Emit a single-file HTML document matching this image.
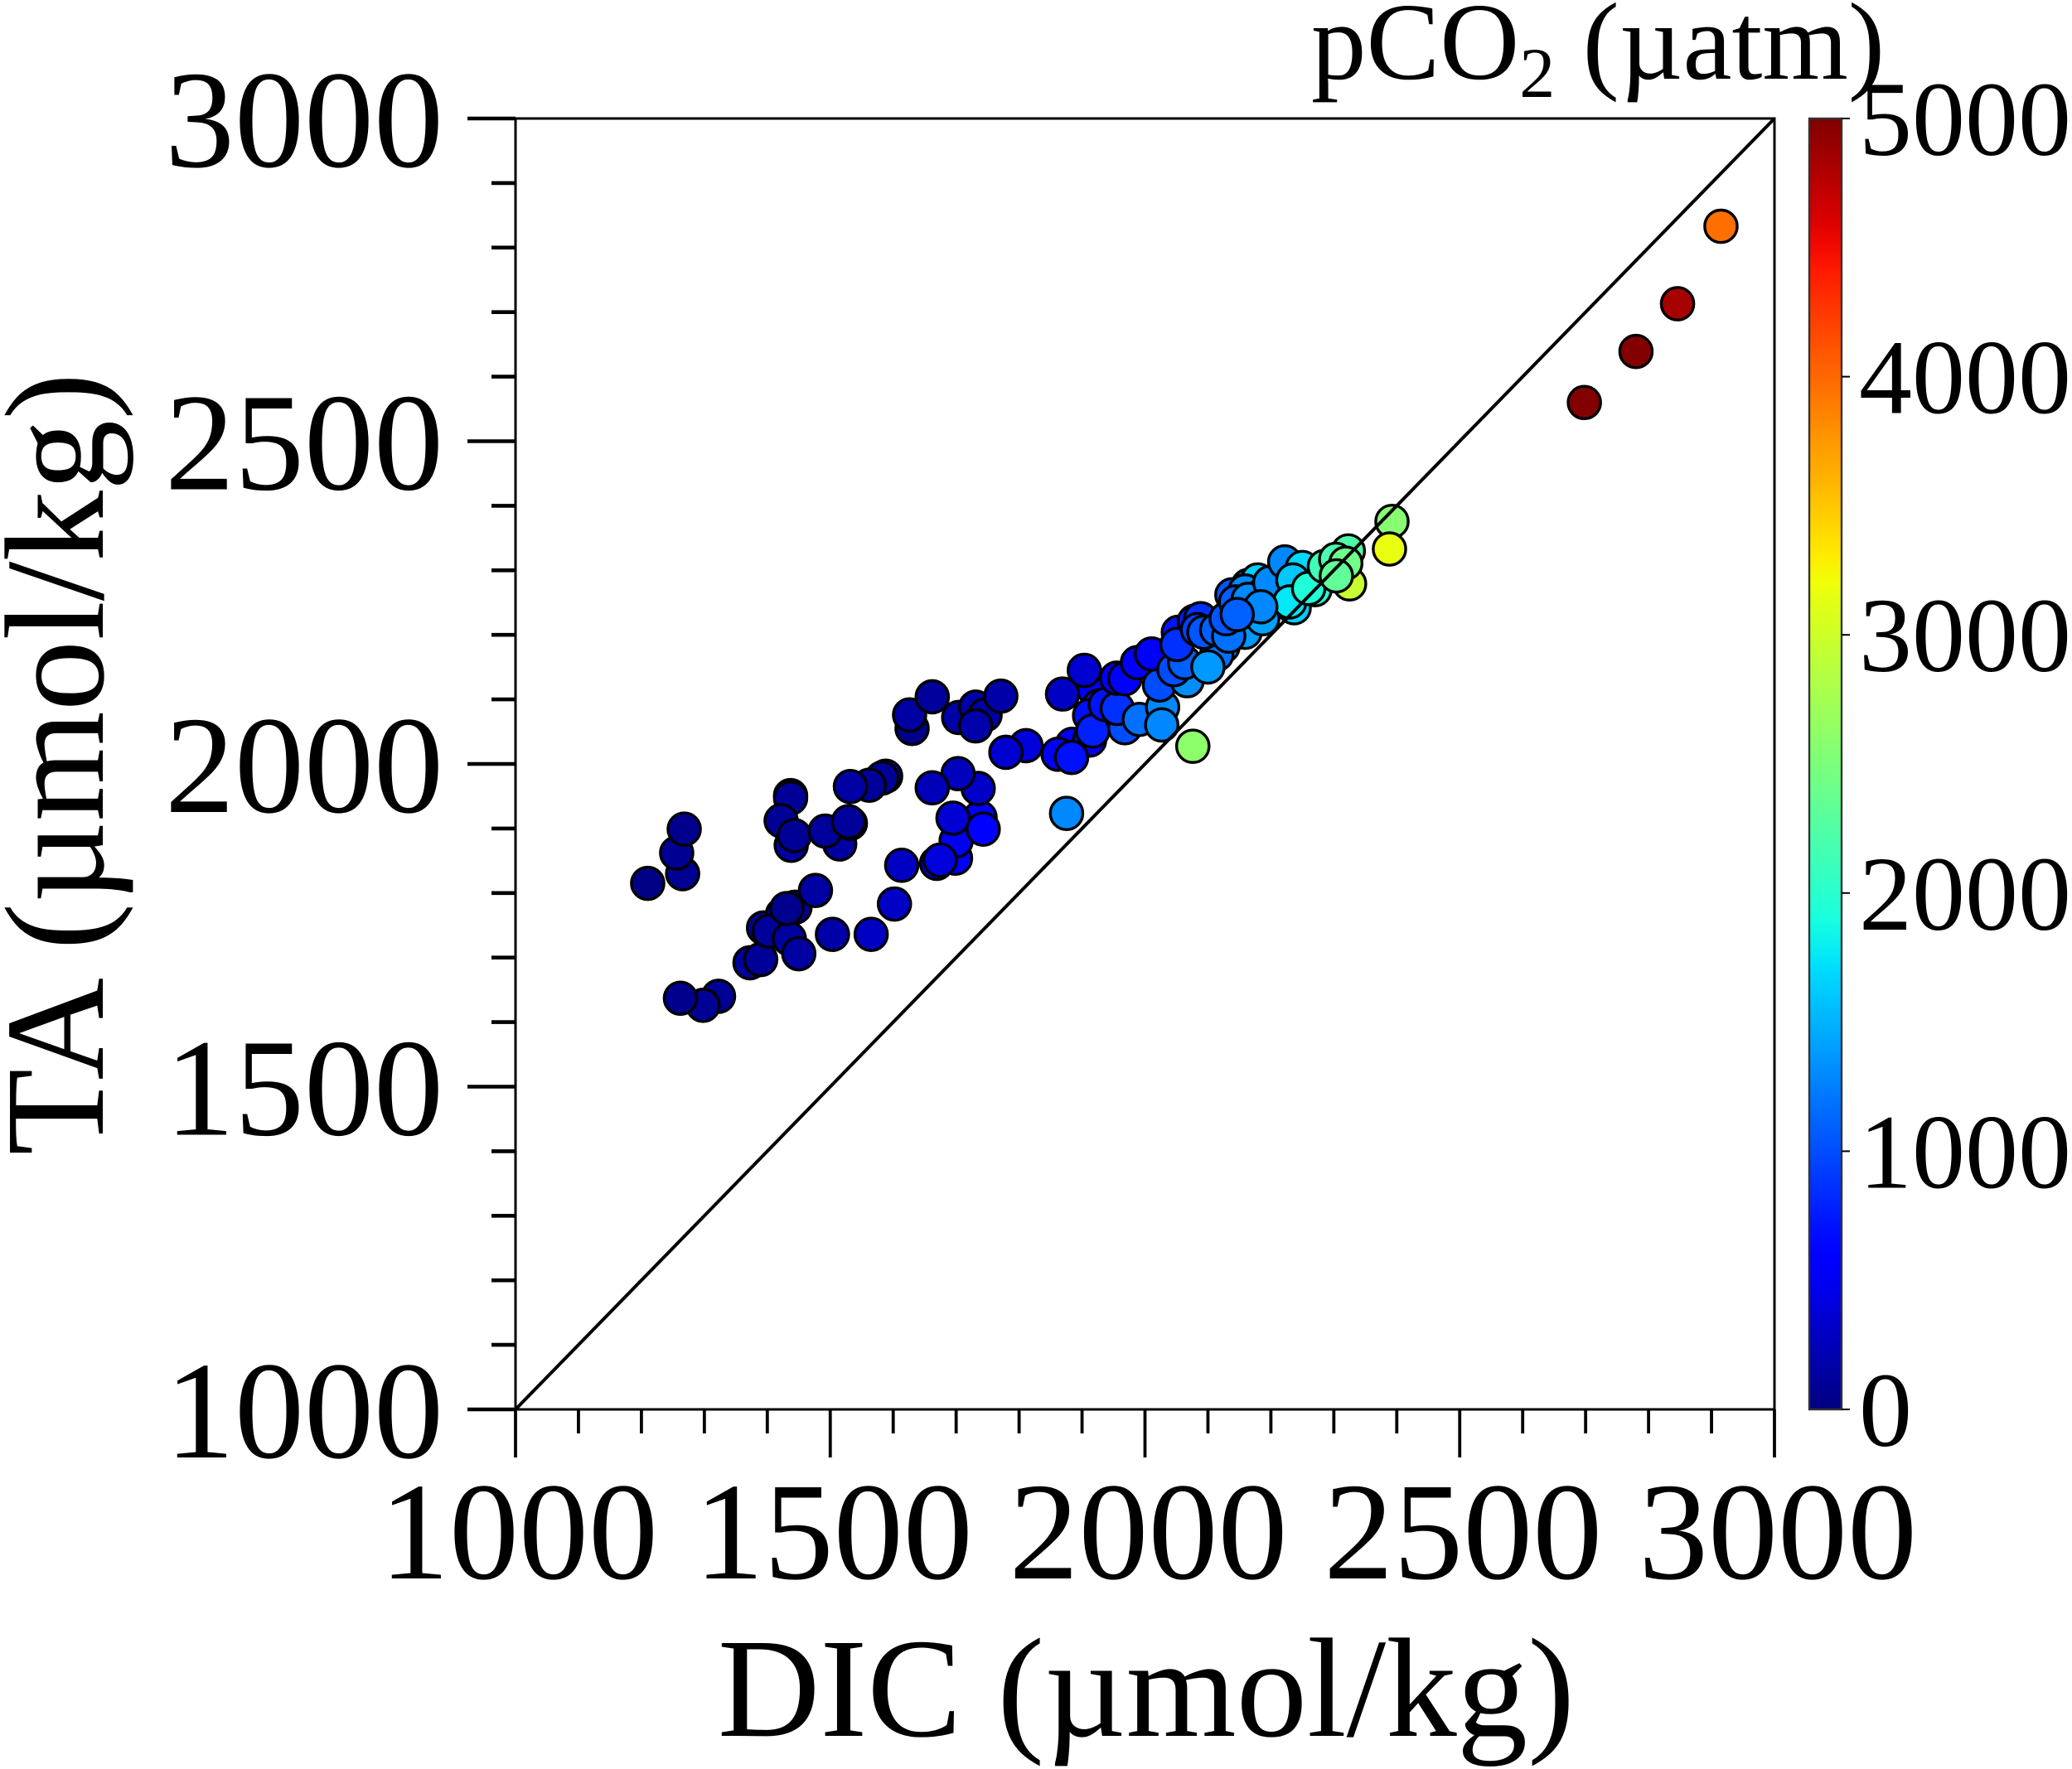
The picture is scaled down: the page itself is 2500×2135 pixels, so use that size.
<!DOCTYPE html>
<html lang="en">
<head>
<meta charset="utf-8">
<title>TA vs DIC coloured by pCO2</title>
<style>
html,body{margin:0;padding:0;background:#fff}
svg{display:block}
text{font-family:"Liberation Serif","DejaVu Serif",serif;fill:#000}
</style>
</head>
<body>
<svg id="chart" xmlns="http://www.w3.org/2000/svg" width="2500" height="2135" viewBox="0 0 2500 2135">
  <rect x="0" y="0" width="2500" height="2135" fill="#fff"/>
  <g id="marks"></g>
  <g id="axes"></g>
  <g id="colorbar"></g>
  <text x="1383" y="2095" font-size="171" text-anchor="middle">DIC (µmol/kg)</text>
  <text transform="translate(124,922) rotate(-90)" font-size="171" text-anchor="middle">TA (µmol/kg)</text>
  <text x="1582" y="95" font-size="133">pCO<tspan font-size="86" dy="22">2</tspan><tspan dy="-22"> (µatm)</tspan></text>
</svg>
<script>
const dicValues = [1210,1265.5,1256,1268,1322.5,1298,1262,1372.5,1389.5,1394,1444,1424,1403,1435,1431,1450,1476.5,1503.5,1565,1602,1613.5,1669,1699,1700,1674.6,1738,1743,1695,1735,1703,1662,1588,1582,1562,1532,1437,1437,1422,1438,1443,1515,1492,1532,1529,1630,1626,1662,1704,1731,1746,1731,
1917,1927,1912,1884.5,1912,1811,1779,1862,1883.4,1917,1771,1869,1903.6,1937,1968,1956,1991,2028,2026.6,1955,1968,1988,2023,2010.4,2067,2053,2046,2063,2051,2124,2114,2100,2078.5,2088.5,2083.5,2093.6,2114,2159,2187,2133,2129,2138,2164,2179,2159,2189,2144,2164,2198.4,2222,2250,2235,2237,2230,2184,2146.5,2325,2270,2260,2285,2323,2303,2319,2304,2392.4,2388.4,2076,1875.4,2915,2846,2780,2698];
const taValues = [1815,1830,1862,1899,1640,1626,1637,1692,1697,1746,1778,1767,1741,1729,1776,1706,1804,1736,1736,1783,1843,1846,1854,1881,1851,1917,1899,1916,1962,1985,1963,1981,1978,1967,1965,1951,1947,1912,1874,1889,1876,1896,1908,1910.5,2055,2076,2104,2072,2088,2076,2059,
2118,2090,2075,2030.4,2037,2028.3,2018,2015,2010,2051,2105,2108.3,2145,2092,2056,2086,2069,2088,2060.4,2133,2132,2157,2122.4,2170.4,2129,2204,2146,2157,2185,2182,2169.5,2150.2,2221,2225,2208,2204,2208,2204,2225,2198,2225,2262,2276.5,2285,2268,2264,2251,2255,2281,2313,2304.3,2285,2242,2251,2243.5,2231.5,2279,2270,2272,2306,2330,2317,2311,2291.4,2375.7,2333,2027.4,1923.4,2833,2713,2639,2560];
const pco2Values = [20,80,80,60,100,90,60,115,100,115,100,90,115,140,60,150,150,175,290,310,290,265,530,510,400,545,600,370,310,265,245,130,115,105,160,25,105,100,160,100,150,115,70,115,45,150,115,170,170,175,175,
550,760,700,550,550,390,350,550,700,780,175,300,350,720,1000,860,1175,1290,1290,560,550,560,1000,550,1320,720,1000,1095,860,1290,1175,1375,760,860,960,1040,1095,1375,1410,1175,1040,1040,1175,1640,1290,1375,1095,1290,1290,1290,1690,1600,1640,1760,1290,1095,2960,1960,1945,2140,2230,2200,2430,2335,2570,3160,2600,1290,3960,4830,4990,4990];
const majorTicks = [1000,1500,2000,2500,3000];
const minorTicks = [1100,1200,1300,1400,1600,1700,1800,1900,2100,2200,2300,2400,2600,2700,2800,2900];
const colorbarTicks = [0,1000,2000,3000,4000,5000];

const NS = 'http://www.w3.org/2000/svg';
const plotLeft = 622, plotRight = 2141, plotTop = 143, plotBottom = 1701;
const cbLeft = 2183, cbRight = 2222;
const xScale = v => plotLeft + (v - 1000) / 2000 * (plotRight - plotLeft);
const yScale = v => plotBottom - (v - 1000) / 2000 * (plotBottom - plotTop);
const cScale = v => plotBottom - v / 5000 * (plotBottom - plotTop);

function clamp01(v){ return Math.max(0, Math.min(1, v)); }
function jet(p){
  const v = p / 5000;
  const r = v < 0.89 ? clamp01((v - 0.35) / 0.31) : 1 - (v - 0.89) / 0.22;
  const g = v < 0.5 ? clamp01((v - 0.125) / 0.25) : clamp01((0.91 - v) / 0.27);
  const b = v < 0.11 ? 0.5 + v / 0.22 : clamp01((0.65 - v) / 0.31);
  return 'rgb(' + Math.round(r * 255) + ',' + Math.round(g * 255) + ',' + Math.round(b * 255) + ')';
}
function make(tag, parent, attrs){
  const el = document.createElementNS(NS, tag);
  Object.keys(attrs).forEach(k => el.setAttribute(k, attrs[k]));
  parent.appendChild(el);
  return el;
}

const marks = document.getElementById('marks');
dicValues.forEach((d, i) => {
  const c = make('circle', marks, {cx: xScale(d), cy: yScale(taValues[i]), r: 19.6, fill: jet(pco2Values[i]), stroke: '#000', 'stroke-width': 3.4});
  
  
});

const axes = document.getElementById('axes');
const frame = make('rect', axes, {x: plotLeft, y: plotTop, width: plotRight - plotLeft, height: plotBottom - plotTop, fill: 'none', stroke: '#000', 'stroke-width': 3});


const diagonal = make('line', axes, {x1: xScale(1000), y1: yScale(1000), x2: xScale(3000), y2: yScale(3000), stroke: '#000', 'stroke-width': 4});



minorTicks.forEach(t => {
  const tx = make('line', axes, {x1: xScale(t), y1: plotBottom, x2: xScale(t), y2: plotBottom + 29, stroke: '#000', 'stroke-width': 3.8});
  
  
  const ty = make('line', axes, {x1: plotLeft - 29, y1: yScale(t), x2: plotLeft, y2: yScale(t), stroke: '#000', 'stroke-width': 4.6});
  
  
});
majorTicks.forEach(t => {
  const tx = make('line', axes, {x1: xScale(t), y1: plotBottom, x2: xScale(t), y2: plotBottom + 58, stroke: '#000', 'stroke-width': 3.8});
  
  
  const ty = make('line', axes, {x1: plotLeft - 58, y1: yScale(t), x2: plotLeft, y2: yScale(t), stroke: '#000', 'stroke-width': 4.6});
  
  
  const lx = make('text', axes, {x: xScale(t) + 4, y: plotBottom + 204, 'font-size': 168, 'text-anchor': 'middle'});
  lx.textContent = String(t);
  
  
  const ly = make('text', axes, {x: 535, y: yScale(t) + 58, 'font-size': 168, 'text-anchor': 'end'});
  ly.textContent = String(t);
  
  
});

const colorbar = document.getElementById('colorbar');
const defs = make('defs', colorbar, {});
const grad = make('linearGradient', defs, {id: 'jetGradient', x1: 0, y1: 1, x2: 0, y2: 0});
for (let i = 0; i <= 50; i++) {
  make('stop', grad, {offset: i / 50, 'stop-color': jet(i / 50 * 5000)});
}
const bar = make('rect', colorbar, {x: cbLeft, y: plotTop, width: cbRight - cbLeft, height: plotBottom - plotTop, fill: 'url(#jetGradient)', stroke: '#333', 'stroke-width': 2.4});


colorbarTicks.forEach(t => {
  const tk = make('line', colorbar, {x1: cbRight, y1: cScale(t), x2: cbRight + 10, y2: cScale(t), stroke: '#000', 'stroke-width': 2});
  
  
  const lb = make('text', colorbar, {x: 2243, y: cScale(t) + 44, 'font-size': 128});
  lb.textContent = String(t);
  
  
});
</script>
</body>
</html>
